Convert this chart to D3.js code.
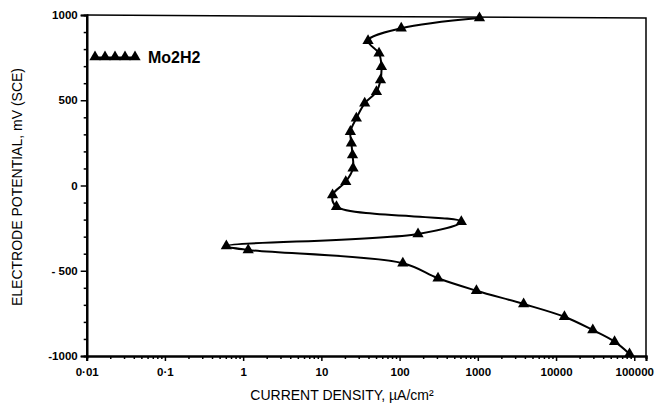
<!DOCTYPE html>
<html>
<head>
<meta charset="utf-8">
<script src="https://cdn.jsdelivr.net/npm/d3@7"></script>
<style>
  body { margin: 0; background: #fff; }
  text { font-family: "Liberation Sans", Arial, sans-serif; }
</style>
</head>
<body>
<script>
// polarisation curve (current in uA/cm2, potential in mV SCE)
const current = [1050, 105, 39.5, 54.6, 58.6, 57, 50.6, 35.8, 28, 23.5, 24.2, 25, 25.4, 20.5, 13.9, 15.6,
                 615, 172, 0.61, 1.16, 110, 310, 960, 3850, 12800, 29500, 56000, 87000]
const potential = [982, 922, 849, 775, 697, 619, 550, 482, 394, 316, 248, 179, 101, 22, -56, -124,
                   -212, -284, -355, -378, -456, -544, -617, -695, -770, -848, -916, -988]
const seriesName = "Mo2H2"

const xTicks = [0.01, 0.1, 1, 10, 100, 1000, 10000, 100000]
const xTickLabels = ["0·01", "0·1", "1", "10", "100", "1000", "10000", "100000"]
const yTicks = [-1000, -500, 0, 500, 1000]
const yTickLabels = ["-1000", "- 500", "0", "500", "1000"]

const w = 655
const h = 407

const svg = d3.select("body")
  .append("svg")
  .attr("width", w)
  .attr("height", h)

const xScale = d3.scaleLog()
  .domain([0.01, Math.pow(10, 5.15)])
  .range([86.7, 646])

const yScale = d3.scaleLinear()
  .domain([-1000, 1000])
  .range([356, 15])

// minor ticks: 2..9 of each decade on x, every 100 mV on y
let xMinor = []
for (let e = -2; e <= 5; e++) {
  for (let m = 2; m <= 9; m++) {
    let v = m * Math.pow(10, e)
    if (v < xScale.domain()[1]) xMinor.push(v)
  }
}
const yMinor = d3.range(-1000, 1001, 100).filter(v => v % 500 !== 0)

const x0 = xScale.range()[0]
const x1 = xScale.range()[1]
const y0 = yScale.range()[0]
const y1 = yScale.range()[1]

// frame: thin top and right
svg.append("path")
  .attr("d", `M${x0},${y1}L${x1},${y1 + 3}L${x1},${y0}`)
  .attr("fill", "none")
  .attr("stroke", "#000")
  .attr("stroke-width", 1.5)

// x axis
const xAxis = svg.append("g").attr("transform", `translate(0,${y0})`)
xAxis.call(d3.axisBottom(xScale).tickValues(xMinor).tickSize(3).tickFormat(""))
xAxis.append("g").call(d3.axisBottom(xScale).tickValues(xTicks).tickSize(5)
  .tickFormat((d, i) => xTickLabels[i]))
xAxis.selectAll(".domain").attr("stroke-width", 2.2)
xAxis.selectAll(".tick line").attr("stroke-width", 1.5)
xAxis.selectAll(".tick text")
  .attr("font-size", 11.5)
  .attr("font-weight", "bold")
  .attr("font-family", "'Liberation Sans', Arial, sans-serif")
  .attr("dy", "1.05em")

// y axis
const yAxis = svg.append("g").attr("transform", `translate(${x0},0)`)
yAxis.call(d3.axisLeft(yScale).tickValues(yMinor).tickSize(3).tickFormat(""))
yAxis.append("g").call(d3.axisLeft(yScale).tickValues(yTicks).tickSize(6)
  .tickFormat((d, i) => yTickLabels[i]))
yAxis.selectAll(".domain").attr("stroke-width", 2.2)
yAxis.selectAll(".tick line").attr("stroke-width", 1.5)
yAxis.selectAll(".tick text")
  .attr("font-size", 11.5)
  .attr("font-weight", "bold")
  .attr("font-family", "'Liberation Sans', Arial, sans-serif")

// axis titles
svg.append("text")
  .attr("x", 342)
  .attr("y", 400)
  .attr("text-anchor", "middle")
  .attr("font-size", 14)
  .text("CURRENT DENSITY, \u00b5A/cm\u00b2")

svg.append("text")
  .attr("transform", "translate(22,187) rotate(-90)")
  .attr("text-anchor", "middle")
  .attr("font-size", 14)
  .text("ELECTRODE POTENTIAL, mV (SCE)")

// the curve
const pts = current.map((c, i) => [c, potential[i]])

const line = d3.line()
  .x(d => xScale(d[0]))
  .y(d => yScale(d[1]))
  .curve(d3.curveCatmullRom.alpha(0.5))

svg.append("path")
  .datum(pts)
  .attr("d", line)
  .attr("fill", "none")
  .attr("stroke", "#000")
  .attr("stroke-width", 2)

const tri = d3.symbol().type(d3.symbolTriangle).size(55)

svg.selectAll(".pt")
  .data(pts)
  .enter()
  .append("path")
  .attr("class", "pt")
  .attr("d", tri)
  .attr("transform", d => `translate(${xScale(d[0])},${yScale(d[1])})`)
  .attr("fill", "#000")

// legend
const legX = d3.range(0, 5).map(i => 95 + i * 10)
svg.selectAll(".leg")
  .data(legX)
  .enter()
  .append("path")
  .attr("class", "leg")
  .attr("d", tri)
  .attr("transform", d => `translate(${d},57)`)
  .attr("fill", "#000")
svg.append("line")
  .attr("x1", 92).attr("x2", 137)
  .attr("y1", 58).attr("y2", 58)
  .attr("stroke", "#000").attr("stroke-width", 3)
svg.append("text")
  .attr("x", 148)
  .attr("y", 63)
  .attr("font-size", 16)
  .attr("font-weight", "bold")
  .text(seriesName)
</script>
</body>
</html>
